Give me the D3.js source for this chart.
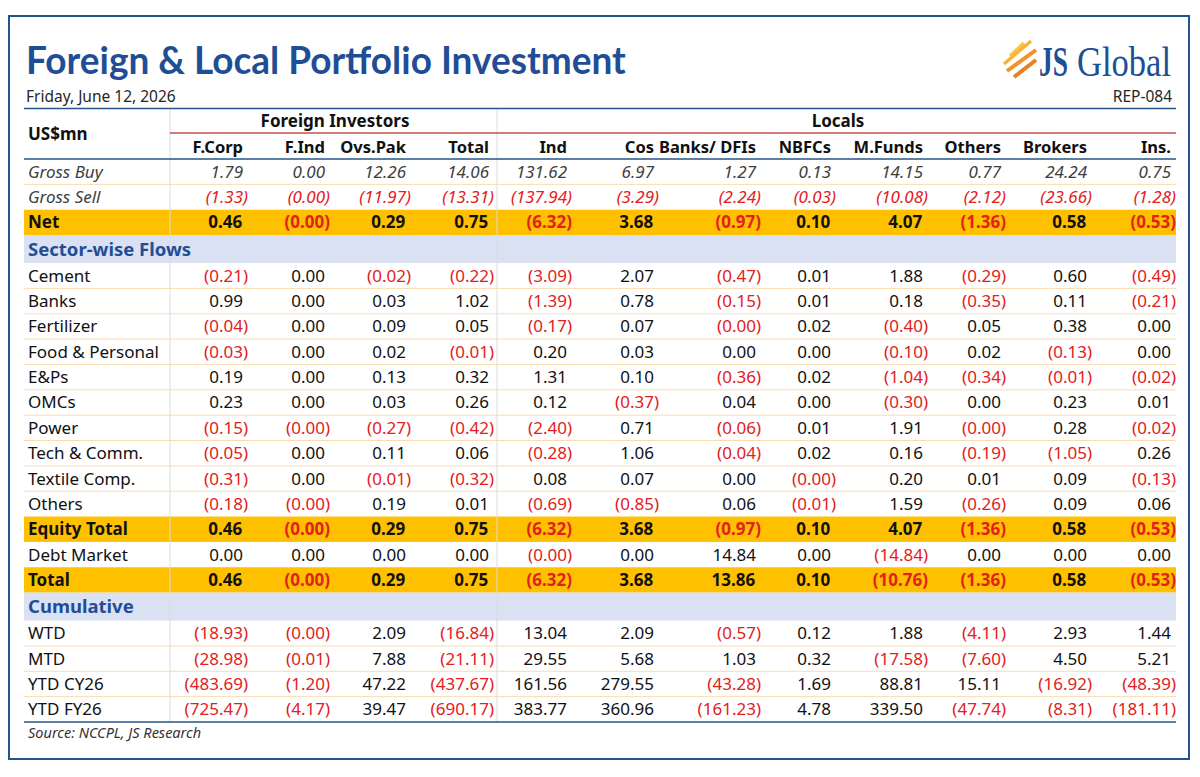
<!DOCTYPE html>
<html>
<head>
<meta charset="utf-8">
<script src="https://cdn.jsdelivr.net/npm/d3@7"></script>
<style>
  body { margin: 0; background: #fff; }
  svg { display: block; }
</style>
</head>
<body>
<div id="container"></div>
<script>
/* DATA (US$mn, negatives shown in brackets) */
const columns = ["F.Corp", "F.Ind", "Ovs.Pak", "Total", "Ind", "Cos", "Banks/ DFIs", "NBFCs", "M.Funds", "Others", "Brokers", "Ins."];
const groups = ["Foreign Investors", "Locals"];

const grossLabels = ["Gross Buy", "Gross Sell", "Net"];
const grossValues = [
  [1.79, 0.00, 12.26, 14.06, 131.62, 6.97, 1.27, 0.13, 14.15, 0.77, 24.24, 0.75],
  [-1.33, -0.001, -11.97, -13.31, -137.94, -3.29, -2.24, -0.03, -10.08, -2.12, -23.66, -1.28],
  [0.46, -0.001, 0.29, 0.75, -6.32, 3.68, -0.97, 0.10, 4.07, -1.36, 0.58, -0.53]
];

const sectorLabels = ["Cement", "Banks", "Fertilizer", "Food & Personal", "E&Ps", "OMCs", "Power", "Tech & Comm.", "Textile Comp.", "Others"];
const sectorValues = [
  [-0.21, 0.00, -0.02, -0.22, -3.09, 2.07, -0.47, 0.01, 1.88, -0.29, 0.60, -0.49],
  [0.99, 0.00, 0.03, 1.02, -1.39, 0.78, -0.15, 0.01, 0.18, -0.35, 0.11, -0.21],
  [-0.04, 0.00, 0.09, 0.05, -0.17, 0.07, -0.001, 0.02, -0.40, 0.05, 0.38, 0.00],
  [-0.03, 0.00, 0.02, -0.01, 0.20, 0.03, 0.00, 0.00, -0.10, 0.02, -0.13, 0.00],
  [0.19, 0.00, 0.13, 0.32, 1.31, 0.10, -0.36, 0.02, -1.04, -0.34, -0.01, -0.02],
  [0.23, 0.00, 0.03, 0.26, 0.12, -0.37, 0.04, 0.00, -0.30, 0.00, 0.23, 0.01],
  [-0.15, -0.001, -0.27, -0.42, -2.40, 0.71, -0.06, 0.01, 1.91, -0.001, 0.28, -0.02],
  [-0.05, 0.00, 0.11, 0.06, -0.28, 1.06, -0.04, 0.02, 0.16, -0.19, -1.05, 0.26],
  [-0.31, 0.00, -0.01, -0.32, 0.08, 0.07, 0.00, -0.001, 0.20, 0.01, 0.09, -0.13],
  [-0.18, -0.001, 0.19, 0.01, -0.69, -0.85, 0.06, -0.01, 1.59, -0.26, 0.09, 0.06]
];

const totalLabels = ["Equity Total", "Debt Market", "Total"];
const totalValues = [
  [0.46, -0.001, 0.29, 0.75, -6.32, 3.68, -0.97, 0.10, 4.07, -1.36, 0.58, -0.53],
  [0.00, 0.00, 0.00, 0.00, -0.001, 0.00, 14.84, 0.00, -14.84, 0.00, 0.00, 0.00],
  [0.46, -0.001, 0.29, 0.75, -6.32, 3.68, 13.86, 0.10, -10.76, -1.36, 0.58, -0.53]
];

const cumulativeLabels = ["WTD", "MTD", "YTD CY26", "YTD FY26"];
const cumulativeValues = [
  [-18.93, -0.001, 2.09, -16.84, 13.04, 2.09, -0.57, 0.12, 1.88, -4.11, 2.93, 1.44],
  [-28.98, -0.01, 7.88, -21.11, 29.55, 5.68, 1.03, 0.32, -17.58, -7.60, 4.50, 5.21],
  [-483.69, -1.20, 47.22, -437.67, 161.56, 279.55, -43.28, 1.69, 88.81, 15.11, -16.92, -48.39],
  [-725.47, -4.17, 39.47, -690.17, 383.77, 360.96, -161.23, 4.78, 339.50, -47.74, -8.31, -181.11]
];

/* LAYOUT */
const width = 1200, height = 777,
    left = 24, right = 1176,
    headTop = 108.5, headBottom = 159,
    rowH = 25.35, secH = 28;

const font = "'Noto Sans', 'Open Sans', sans-serif";
const blue = "#1f4e96", red = "#e3201b", orange = "#ffc000", band = "#d9e1f2";

// right edge of each value column (closing bracket lands here)
const colRight = d3.scaleOrdinal()
  .domain(columns)
  .range([248, 330, 411, 494, 572, 659, 761, 836, 928, 1006, 1092, 1176]);
const groupSplit = [170, 497];

// one list of rows, each with its look
const rows = [
  ...grossLabels.map((l, i) => ({label: l, values: grossValues[i], type: i < 2 ? "gross" : "band"})),
  {label: "Sector-wise Flows", type: "section"},
  ...sectorLabels.map((l, i) => ({label: l, values: sectorValues[i], type: "plain"})),
  ...totalLabels.map((l, i) => ({label: l, values: totalValues[i], type: i === 1 ? "plain" : "band"})),
  {label: "Cumulative", type: "section"},
  ...cumulativeLabels.map((l, i) => ({label: l, values: cumulativeValues[i], type: "plain"}))
];
const heights = rows.map(r => r.type === "section" ? secH : rowH);
const ends = Array.from(d3.cumsum(heights), s => headBottom + s);
rows.forEach((r, i) => { r.y0 = ends[i] - heights[i]; r.y1 = ends[i]; r.cy = (r.y0 + r.y1) / 2; });

const fmt = d3.format(",.2f");

// squeeze a text horizontally to a given width (narrow-font look)
function fitWidth(sel, x, y, target) {
  const w = sel.node().getComputedTextLength();
  const sx = w > target ? target / w : 1;
  sel.attr("x", 0).attr("y", 0).attr("transform", `translate(${x},${y}) scale(${sx},1)`);
}

/* SVG */
const svg = d3.select("#container").append("svg")
  .attr("width", width).attr("height", height)
  .style("font-family", font);

svg.append("rect")
  .attr("x", 9).attr("y", 16).attr("width", 1180).attr("height", 743)
  .attr("fill", "#fff").attr("stroke", "#24548a").attr("stroke-width", 2);

const title = svg.append("text")
  .attr("fill", blue).attr("font-family", "Lato, 'Noto Sans', sans-serif")
  .attr("font-weight", 700).attr("font-size", 37.5)
  .text("Foreign & Local Portfolio Investment");
fitWidth(title, 26, 74, 600);

svg.append("text").attr("x", 26).attr("y", 102)
  .attr("font-size", 15.5).attr("fill", "#262626")
  .text("Friday, June 12, 2026");
svg.append("text").attr("x", 1172).attr("y", 102)
  .attr("text-anchor", "end").attr("font-size", 15.5).attr("fill", "#262626")
  .text("REP-084");

// logo
const logo = svg.append("g");
const stripes = [
  {x1: 1010, y1: 56, x2: 1024, y2: 43, c: "#f8c44a", w: 3.5},
  {x1: 1004, y1: 64, x2: 1031, y2: 41, c: "#f6b537", w: 3.5},
  {x1: 1007, y1: 71, x2: 1036, y2: 50, c: "#f09428", w: 4},
  {x1: 1014, y1: 77, x2: 1036, y2: 60, c: "#ec7f1f", w: 4}
];
logo.selectAll("line").data(stripes).join("line")
  .attr("x1", d => d.x1).attr("y1", d => d.y1)
  .attr("x2", d => d.x2).attr("y2", d => d.y2)
  .attr("stroke", d => d.c).attr("stroke-width", d => d.w);
const logoWords = [
  {t: "JS", x: 1039, len: 29, w: 700},
  {t: "Global", x: 1077, len: 94, w: 400}
];
logo.selectAll("text").data(logoWords).join("text")
  .attr("font-family", "'Liberation Serif', 'DejaVu Serif', serif")
  .attr("font-size", 42).attr("font-weight", d => d.w).attr("fill", "#1d4f95")
  .text(d => d.t)
  .each(function(d) { fitWidth(d3.select(this), d.x, 76, d.len); });

/* ROW BACKGROUNDS */
svg.selectAll(".bg")
  .data(rows.filter(r => r.type === "band" || r.type === "section"))
  .join("rect")
  .attr("class", "bg")
  .attr("x", left).attr("width", right - left)
  .attr("y", d => d.y0).attr("height", d => d.y1 - d.y0)
  .attr("fill", d => d.type === "band" ? orange : band);

// thin separators between plain rows
const seps = rows.filter((r, i) => (r.type === "plain" || r.type === "gross") && rows[i + 1] &&
  (rows[i + 1].type === "plain" || rows[i + 1].type === "gross"));
svg.selectAll(".sep").data(seps).join("line")
  .attr("class", "sep")
  .attr("x1", left).attr("x2", right)
  .attr("y1", d => d.y1).attr("y2", d => d.y1)
  .attr("stroke", "#fbdcae").attr("stroke-width", 1);

// column group dividers
svg.selectAll(".vsep").data(groupSplit).join("line")
  .attr("class", "vsep")
  .attr("x1", d => d).attr("x2", d => d)
  .attr("y1", headTop).attr("y2", ends[ends.length - 1])
  .attr("stroke", "#dcdcdc").attr("stroke-width", 1);

/* HEADER */
svg.append("line").attr("x1", left).attr("x2", right)
  .attr("y1", headTop).attr("y2", headTop)
  .attr("stroke", "#24548a").attr("stroke-width", 1.5);
svg.append("line").attr("x1", groupSplit[0]).attr("x2", right)
  .attr("y1", 133).attr("y2", 133)
  .attr("stroke", "#c0504d").attr("stroke-width", 1.5);
svg.append("line").attr("x1", left).attr("x2", right)
  .attr("y1", headBottom).attr("y2", headBottom)
  .attr("stroke", "#24548a").attr("stroke-width", 1.5);
svg.append("line").attr("x1", left).attr("x2", right)
  .attr("y1", ends[ends.length - 1]).attr("y2", ends[ends.length - 1])
  .attr("stroke", "#24548a").attr("stroke-width", 1.5);

svg.append("text").attr("x", 28).attr("y", 140)
  .attr("font-size", 17).attr("font-weight", 700).attr("fill", "#111")
  .text("US$mn");

svg.selectAll(".group").data(groups).join("text")
  .attr("class", "group")
  .attr("x", (d, i) => i === 0 ? 335 : 838).attr("y", 127)
  .attr("text-anchor", "middle").attr("font-size", 17).attr("font-weight", 700).attr("fill", "#111")
  .text(d => d);

svg.selectAll(".colhead").data(columns).join("text")
  .attr("class", "colhead")
  .attr("x", d => colRight(d) - 5).attr("y", 153)
  .attr("text-anchor", "end").attr("font-size", 16.5).attr("font-weight", 700).attr("fill", "#111")
  .text(d => d);

/* ROWS */
const rowG = svg.selectAll(".row").data(rows).join("g")
  .attr("class", "row")
  .attr("transform", d => `translate(0,${d.cy})`);

rowG.append("text")
  .attr("x", 28).attr("y", d => d.type === "section" ? 6.5 : 6)
  .attr("font-size", d => d.type === "section" ? 18.5 : 17)
  .attr("font-weight", d => d.type === "band" || d.type === "section" ? 700 : 400)
  .attr("font-style", d => d.type === "gross" ? "italic" : "normal")
  .attr("fill", d => d.type === "section" ? blue : d.type === "gross" ? "#404040" : "#111")
  .text(d => d.label);

const cells = rowG.filter(d => d.values)
  .selectAll(".cell")
  .data(d => d.values.map((v, i) => ({v, col: columns[i], type: d.type})))
  .join("text")
  .attr("class", "cell")
  .attr("x", d => colRight(d.col)).attr("y", 6)
  .attr("text-anchor", "end").attr("font-size", 17)
  .attr("font-weight", d => d.type === "band" ? 700 : 400)
  .attr("font-style", d => d.type === "gross" ? "italic" : "normal")
  .attr("fill", d => d.v < 0 ? red : d.type === "gross" ? "#404040" : "#111");

cells.append("tspan").text(d => d.v < 0 ? `(${fmt(-d.v)})` : fmt(d.v));
// keep positives aligned with bracketed numbers
cells.filter(d => d.v >= 0).append("tspan").attr("fill-opacity", 0).text(")");

/* FOOTER */
svg.append("text").attr("x", 28).attr("y", 738)
  .attr("font-size", 14.5).attr("font-style", "italic").attr("fill", "#333")
  .text("Source: NCCPL, JS Research");
</script>
</body>
</html>
